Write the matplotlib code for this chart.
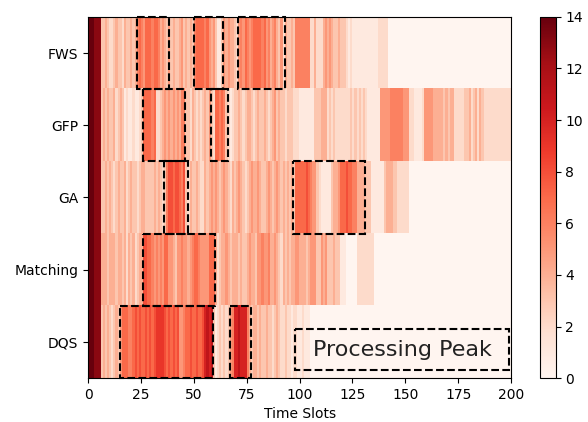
import numpy as np
import matplotlib
matplotlib.use("Agg")
import matplotlib.pyplot as plt
from matplotlib.patches import Rectangle

# row names, top to bottom
methods = ["FWS", "GFP", "GA", "Matching", "DQS"]

# load per time slot (200 slots)
fws = [14, 14, 14, 13, 13, 13, 3, 3, 4, 3,
       2, 2, 3, 4, 3, 3, 2, 4, 3, 3,
       4, 3, 4, 6, 7, 6, 5, 7, 7, 7,
       6, 7, 7, 6, 4, 5, 4, 3, 5, 3,
       4, 3, 3, 4, 5, 3, 4, 3, 4, 3,
       6, 7, 7, 7, 7, 6, 7, 5, 4, 5,
       3, 1, 1, 3, 5, 4, 5, 4, 4, 3,
       2, 5, 6, 5, 7, 6, 5, 6, 7, 7,
       7, 7, 6, 7, 5, 6, 4, 5, 6, 4,
       3, 5, 2, 4, 3, 3, 4, 3, 6, 6,
       6, 6, 6, 6, 6, 2, 2, 4, 2, 2,
       2, 4, 5, 4, 5, 4, 3, 3, 4, 3,
       3, 3, 2, 1, 2, 1, 1, 1, 1, 1,
       1, 1, 1, 1, 1, 1, 1, 2, 2, 2,
       2, 2, 0, 0, 0, 0, 0, 0, 0, 0,
       0, 0, 0, 0, 0, 0, 0, 0, 0, 0,
       0, 0, 0, 0, 0, 0, 0, 0, 0, 0,
       0, 0, 0, 0, 0, 0, 0, 0, 0, 0,
       0, 0, 0, 0, 0, 0, 0, 0, 0, 0,
       0, 0, 0, 0, 0, 0, 0, 0, 0, 0]

gfp = [14, 14, 14, 13, 13, 13, 3, 4, 3, 4,
       3, 3, 4, 2, 3, 4, 3, 1, 2, 1,
       1, 2, 1, 1, 2, 3, 7, 7, 7, 7,
       6, 7, 2, 2, 3, 4, 5, 4, 5, 4,
       5, 4, 5, 4, 6, 6, 3, 3, 2, 4,
       3, 2, 3, 2, 3, 4, 3, 5, 3, 2,
       7, 7, 6, 7, 6, 3, 2, 1, 2, 3,
       3, 4, 3, 2, 3, 4, 4, 3, 2, 3,
       4, 3, 3, 4, 3, 2, 3, 4, 5, 3,
       4, 3, 3, 2, 3, 3, 3, 2, 2, 2,
       1, 1, 1, 1, 1, 1, 1, 3, 3, 3,
       4, 4, 4, 2, 3, 2, 3, 2, 2, 2,
       2, 2, 2, 2, 3, 2, 3, 2, 3, 2,
       3, 2, 1, 1, 1, 1, 1, 1, 5, 5,
       5, 5, 5, 6, 6, 6, 6, 6, 6, 5,
       5, 5, 2, 2, 1, 1, 1, 1, 2, 5,
       5, 5, 5, 4, 4, 4, 4, 4, 3, 4,
       3, 4, 4, 2, 2, 2, 2, 2, 3, 3,
       4, 2, 3, 4, 2, 4, 3, 2, 2, 2,
       2, 2, 2, 2, 2, 2, 2, 2, 2, 2]

ga = [14, 14, 14, 13, 13, 13, 3, 3, 4, 3,
      4, 3, 2, 3, 4, 3, 3, 4, 2, 3,
      4, 3, 3, 2, 3, 4, 4, 3, 3, 3,
      3, 4, 3, 4, 3, 2, 3, 6, 8, 8,
      7, 8, 8, 7, 6, 8, 3, 2, 4, 3,
      3, 4, 3, 2, 2, 4, 3, 4, 5, 4,
      5, 4, 3, 4, 5, 4, 3, 2, 4, 3,
      4, 5, 4, 3, 2, 3, 4, 5, 4, 4,
      5, 4, 3, 3, 4, 5, 4, 3, 4, 5,
      4, 3, 4, 3, 4, 3, 4, 3, 7, 7,
      7, 7, 7, 8, 7, 6, 5, 5, 3, 2,
      1, 1, 1, 1, 1, 3, 4, 4, 5, 7,
      7, 7, 8, 7, 7, 6, 6, 4, 4, 4,
      4, 3, 3, 3, 1, 1, 1, 1, 1, 1,
      3, 4, 4, 4, 3, 3, 2, 2, 2, 2,
      2, 2, 0, 0, 0, 0, 0, 0, 0, 0,
      0, 0, 0, 0, 0, 0, 0, 0, 0, 0,
      0, 0, 0, 0, 0, 0, 0, 0, 0, 0,
      0, 0, 0, 0, 0, 0, 0, 0, 0, 0,
      0, 0, 0, 0, 0, 0, 0, 0, 0, 0]

matching = [14, 14, 14, 13, 13, 13, 4, 4, 4, 3,
            4, 4, 4, 3, 4, 4, 3, 4, 2, 4,
            3, 4, 2, 3, 4, 4, 8, 8, 7, 7,
            6, 5, 6, 5, 6, 5, 7, 7, 5, 5,
            4, 3, 5, 5, 6, 5, 5, 4, 5, 6,
            7, 7, 6, 5, 5, 5, 5, 7, 7, 7,
            4, 2, 3, 4, 4, 5, 4, 3, 4, 4,
            4, 3, 4, 3, 3, 4, 5, 4, 4, 3,
            5, 5, 6, 5, 5, 6, 4, 4, 5, 4,
            3, 2, 4, 3, 4, 3, 4, 4, 5, 5,
            4, 4, 4, 3, 4, 5, 5, 5, 3, 3,
            5, 4, 5, 3, 3, 3, 4, 3, 3, 1,
            1, 1, 0, 0, 0, 0, 0, 2, 2, 2,
            2, 2, 2, 2, 2, 0, 0, 0, 0, 0,
            0, 0, 0, 0, 0, 0, 0, 0, 0, 0,
            0, 0, 0, 0, 0, 0, 0, 0, 0, 0,
            0, 0, 0, 0, 0, 0, 0, 0, 0, 0,
            0, 0, 0, 0, 0, 0, 0, 0, 0, 0,
            0, 0, 0, 0, 0, 0, 0, 0, 0, 0,
            0, 0, 0, 0, 0, 0, 0, 0, 0, 0]

dqs = [14, 14, 14, 13, 13, 13, 3, 4, 3, 4,
       3, 2, 3, 4, 3, 5, 7, 7, 7, 6,
       6, 7, 8, 7, 8, 7, 7, 8, 7, 8,
       7, 8, 9, 9, 9, 9, 8, 7, 8, 7,
       8, 7, 8, 5, 5, 6, 7, 7, 8, 7,
       7, 8, 7, 7, 8, 10, 11, 10, 11, 3,
       1, 2, 3, 2, 3, 2, 3, 5, 6, 10,
       10, 11, 10, 10, 10, 6, 4, 3, 4, 4,
       3, 4, 3, 3, 4, 3, 3, 2, 3, 4,
       3, 2, 2, 3, 2, 2, 1, 2, 2, 1,
       1, 2, 1, 1, 1, 0, 0, 0, 0, 0,
       0, 0, 0, 0, 0, 0, 0, 0, 0, 0,
       0, 0, 0, 0, 0, 0, 0, 0, 0, 0,
       0, 0, 0, 0, 0, 0, 0, 0, 0, 0,
       0, 0, 0, 0, 0, 0, 0, 0, 0, 0,
       0, 0, 0, 0, 0, 0, 0, 0, 0, 0,
       0, 0, 0, 0, 0, 0, 0, 0, 0, 0,
       0, 0, 0, 0, 0, 0, 0, 0, 0, 0,
       0, 0, 0, 0, 0, 0, 0, 0, 0, 0,
       0, 0, 0, 0, 0, 0, 0, 0, 0, 0]

# highlighted peaks: (row, first slot, last slot)
peaks = [(0, 23, 38), (0, 50, 64), (0, 71, 93),
         (1, 26, 46), (1, 58, 66),
         (2, 36, 47), (2, 97, 131),
         (3, 26, 60),
         (4, 15, 59), (4, 67, 77)]

data = np.array([fws, gfp, ga, matching, dqs])
n_slots = data.shape[1]

fig = plt.figure(figsize=(5.88, 4.22), dpi=100)
ax = fig.add_axes([0.150, 0.104, 0.719, 0.856])
cax = fig.add_axes([0.918, 0.104, 0.027, 0.856])

im = ax.imshow(data, cmap="Reds", vmin=0, vmax=14, aspect="auto",
               interpolation="nearest",
               extent=(0, n_slots, len(methods) - 0.5, -0.5))

for row, start, end in peaks:
    ax.add_patch(Rectangle((start, row - 0.5), end - start, 1.0, fill=False,
                           edgecolor="black", linestyle="--", linewidth=1.5,
                           clip_on=False, zorder=3))

# legend-like box in the lower right
ax.add_patch(Rectangle((98, 3.82), 101, 0.57, fill=False, edgecolor="black",
                       linestyle="--", linewidth=1.5, zorder=3))
ax.text(148.5, 4.11, "Processing Peak", ha="center", va="center", fontsize=16,
        color="#222222", zorder=4)

ax.set_yticks(range(len(methods)))
ax.set_yticklabels(methods)
ax.set_xticks(np.arange(0, 201, 25))
ax.set_xlim(0, n_slots)
ax.set_xlabel("Time Slots")

cb = fig.colorbar(im, cax=cax)
cb.set_ticks(np.arange(0, 15, 2))

fig.savefig("out.png", dpi=100)
